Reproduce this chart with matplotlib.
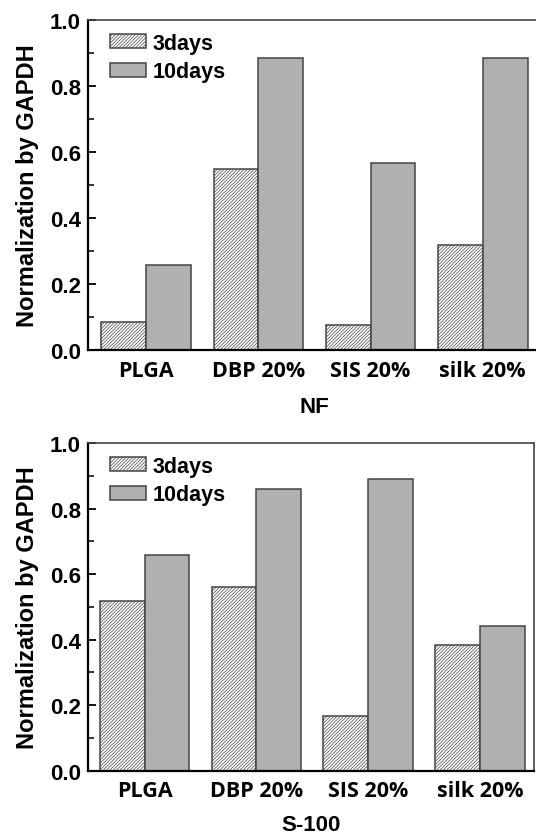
import matplotlib
matplotlib.use("Agg")
import matplotlib.pyplot as plt
import numpy as np
from matplotlib.ticker import MultipleLocator

categories = ["PLGA", "DBP 20%", "SIS 20%", "silk 20%"]
series_names = ["3days", "10days"]
nf_3days = [0.085, 0.550, 0.077, 0.317]
nf_10days = [0.258, 0.885, 0.567, 0.885]
s100_3days = [0.519, 0.561, 0.167, 0.384]
s100_10days = [0.658, 0.860, 0.890, 0.443]
yticks = [0.0, 0.2, 0.4, 0.6, 0.8, 1.0]
panel_titles = ["NF", "S-100"]

plt.rcParams['hatch.linewidth'] = 0.5
plt.rcParams['hatch.color'] = '#333333'

W, H = 536, 837
fig = plt.figure(figsize=(W / 100, H / 100), dpi=100)

panels = [
    dict(rect=[88 / W, 1 - 351 / H, (541 - 88) / W, 330 / H], xlim=(-0.52, 3.52),
         d3=nf_3days, d10=nf_10days, title=panel_titles[0], lp=11),
    dict(rect=[88 / W, 1 - 771.7 / H, (534 - 88) / W, 327.7 / H], xlim=(-0.506, 3.483),
         d3=s100_3days, d10=s100_10days, title=panel_titles[1], lp=9),
]

tickfont = dict(family='Liberation Sans', weight='bold', size=16)
catfont = dict(family='Open Sans', weight='bold', size=15.5)

for p in panels:
    ax = fig.add_axes(p['rect'])
    x = np.arange(len(categories))
    w = 0.4
    ax.bar(x - w / 2, p['d3'], w, facecolor='white', edgecolor='#444444',
           linewidth=1.1, hatch='//////////', label=series_names[0])
    ax.bar(x + w / 2, p['d10'], w, facecolor='#b0b0b0', edgecolor='#444444',
           linewidth=1.1, label=series_names[1])
    ax.set_xlim(*p['xlim'])
    ax.set_ylim(0, 1.0)
    ax.set_yticks(yticks)
    ax.set_yticklabels([f"{v:.1f}" for v in yticks], fontdict=tickfont)
    ax.yaxis.set_minor_locator(MultipleLocator(0.1))
    ax.tick_params(axis='y', which='major', direction='in', length=6, width=1.3, pad=5)
    ax.tick_params(axis='y', which='minor', direction='in', length=4, width=1.1)
    ax.set_xticks(x)
    ax.set_xticklabels(categories, fontdict=catfont)
    ax.tick_params(axis='x', which='both', length=0, pad=7)
    for s in ['left', 'bottom']:
        ax.spines[s].set_linewidth(1.6)
        ax.spines[s].set_color('black')
    for s in ['top', 'right']:
        ax.spines[s].set_linewidth(1.2)
        ax.spines[s].set_color('#444444')
    ax.set_ylabel("Normalization by GAPDH", fontdict=dict(family='Liberation Sans',
                  weight='bold', size=17), labelpad=8)
    ax.set_xlabel(p['title'], fontdict=dict(family='Liberation Sans', weight='bold',
                  size=16), labelpad=p['lp'])
    ax.legend(loc='upper left', frameon=False, prop=dict(family='Liberation Sans',
              weight='bold', size=15.5), handlelength=1.65, handleheight=0.6,
              handletextpad=0.3, labelspacing=0.35, borderaxespad=0.2,
              bbox_to_anchor=(0.021, 1.0))

fig.savefig("out.png", dpi=100)
